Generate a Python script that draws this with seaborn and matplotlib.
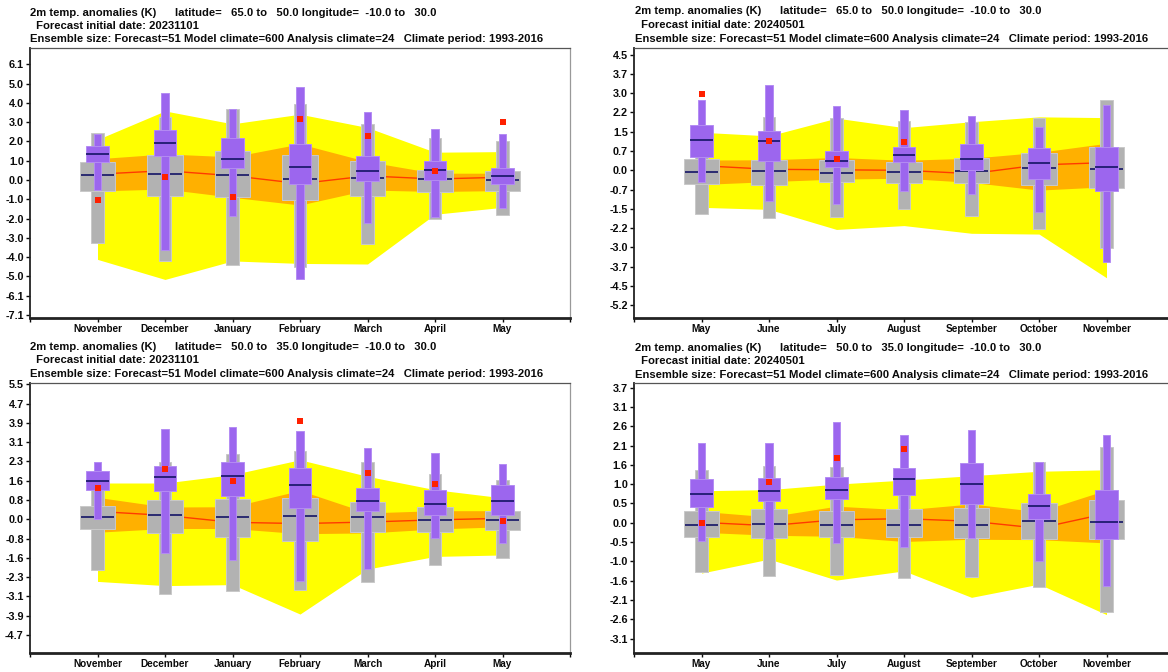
import numpy as np
import matplotlib
matplotlib.use("Agg")
import matplotlib.pyplot as plt
import seaborn as sns

sns.set_theme(style="white")
plt.rcParams['font.family'] = ['Liberation Sans', 'DejaVu Sans']
plt.rcParams['font.weight'] = 'bold'

# ---------------------------------------------------------------- data
months_winter = ["November", "December", "January", "February", "March", "April", "May"]
months_summer = ["May", "June", "July", "August", "September", "October", "November"]

# Panel A: lat 65-50, start 20231101
a_clim_outer_hi = [2.10, 3.58, 2.91, 3.41, 2.72, 1.44, 1.47]
a_clim_outer_lo = [-4.12, -5.16, -4.20, -4.33, -4.36, -1.78, -1.42]
a_clim_inner_hi = [1.10, 1.35, 1.20, 1.87, 0.95, 0.35, 0.35]
a_clim_inner_lo = [-0.57, -0.47, -0.90, -1.30, -0.52, -0.60, -0.55]
a_clim_median = [0.30, 0.48, 0.22, -0.19, 0.21, 0.05, 0.14]
a_mclim_whisk_hi = [2.46, 3.29, 3.69, 3.93, 2.89, 2.18, 2.02]
a_mclim_whisk_lo = [-3.25, -4.19, -4.41, -4.50, -3.32, -2.00, -1.83]
a_mclim_box_hi = [0.93, 1.30, 1.50, 1.30, 0.97, 0.52, 0.47]
a_mclim_box_lo = [-0.57, -0.83, -0.90, -1.04, -0.81, -0.64, -0.57]
a_mclim_median = [0.26, 0.31, 0.26, 0.07, 0.09, 0.03, -0.02]
a_fc_whisk_hi = [2.40, 4.50, 3.69, 4.84, 3.53, 2.65, 2.39]
a_fc_whisk_lo = [-0.52, -3.63, -1.85, -5.14, -2.21, -1.92, -1.45]
a_fc_box_hi = [1.76, 2.60, 2.16, 1.87, 1.26, 0.99, 0.62]
a_fc_box_lo = [0.92, 1.26, 0.62, -0.19, -0.03, 0.00, -0.22]
a_fc_median = [1.35, 1.94, 1.11, 0.66, 0.45, 0.50, 0.21]
a_analysis = [-1.04, 0.16, -0.88, 3.17, 2.30, 0.47, 3.01]

# Panel B: lat 65-50, start 20240501
b_clim_outer_hi = [1.48, 1.34, 2.03, 1.66, 1.89, 2.08, 2.05]
b_clim_outer_lo = [-1.44, -1.52, -2.30, -2.15, -2.45, -2.48, -4.18]
b_clim_inner_hi = [0.40, 0.41, 0.50, 0.39, 0.47, 0.70, 1.05]
b_clim_inner_lo = [-0.55, -0.44, -0.34, -0.31, -0.47, -0.77, -0.64]
b_clim_median = [0.18, 0.04, 0.02, 0.00, -0.13, 0.21, 0.30]
b_mclim_whisk_hi = [1.20, 2.09, 2.05, 1.92, 1.87, 2.05, 2.74]
b_mclim_whisk_lo = [-1.71, -1.87, -1.80, -1.50, -1.76, -2.30, -3.03]
b_mclim_box_hi = [0.45, 0.41, 0.39, 0.32, 0.48, 0.66, 0.89]
b_mclim_box_lo = [-0.52, -0.59, -0.47, -0.48, -0.48, -0.57, -0.68]
b_mclim_median = [-0.05, -0.04, -0.11, -0.08, -0.02, 0.08, 0.05]
b_fc_whisk_hi = [2.74, 3.32, 2.51, 2.35, 2.12, 1.70, 2.53]
b_fc_whisk_lo = [-0.44, -1.19, -1.31, -0.80, -0.92, -1.64, -3.58]
b_fc_box_hi = [1.76, 1.53, 0.74, 0.91, 1.04, 0.86, 0.89]
b_fc_box_lo = [0.52, 0.38, 0.14, 0.31, 0.02, -0.34, -0.80]
b_fc_median = [1.17, 1.14, 0.38, 0.59, 0.43, 0.27, 0.12]
b_analysis = [2.97, 1.14, 0.44, 1.10, np.nan, np.nan, np.nan]

# Panel C: lat 50-35, start 20231101
c_clim_outer_hi = [1.47, 1.47, 1.81, 2.41, 1.74, 1.20, 0.87]
c_clim_outer_lo = [-2.51, -2.68, -2.64, -3.83, -2.01, -1.50, -1.44]
c_clim_inner_hi = [0.89, 0.50, 0.51, 1.17, 0.26, 0.35, 0.35]
c_clim_inner_lo = [-0.52, -0.37, -0.37, -0.58, -0.55, -0.39, -0.30]
c_clim_median = [0.32, 0.16, -0.12, -0.17, -0.11, -0.02, 0.04]
c_mclim_whisk_hi = [1.56, 2.31, 2.66, 2.75, 2.31, 1.83, 1.58]
c_mclim_whisk_lo = [-2.04, -3.00, -2.91, -2.85, -2.55, -1.83, -1.57]
c_mclim_box_hi = [0.54, 0.80, 0.81, 0.85, 0.69, 0.48, 0.35]
c_mclim_box_lo = [-0.39, -0.55, -0.72, -0.87, -0.52, -0.51, -0.43]
c_mclim_median = [0.08, 0.19, 0.11, 0.15, 0.11, -0.02, -0.02]
c_fc_whisk_hi = [2.33, 3.67, 3.74, 3.59, 2.90, 2.67, 2.22]
c_fc_whisk_lo = [0.02, -1.37, -1.63, -2.51, -2.00, -0.76, -0.97]
c_fc_box_hi = [1.94, 2.16, 2.33, 2.07, 1.26, 1.20, 1.40]
c_fc_box_lo = [1.19, 1.13, 0.93, 0.44, 0.34, 0.16, 0.16]
c_fc_median = [1.55, 1.70, 1.74, 1.40, 0.74, 0.61, 0.73]
c_analysis = [1.26, 2.02, 1.54, 3.96, 1.86, 1.43, -0.08]

# Panel D: lat 50-35, start 20240501
d_clim_outer_hi = [0.87, 0.90, 1.05, 1.16, 1.28, 1.40, 1.44]
d_clim_outer_lo = [-1.37, -0.99, -1.56, -1.31, -2.03, -1.67, -2.50]
d_clim_inner_hi = [0.31, 0.16, 0.45, 0.35, 0.51, 0.30, 0.89]
d_clim_inner_lo = [-0.26, -0.34, -0.37, -0.51, -0.45, -0.46, -0.55]
d_clim_median = [0.01, -0.08, 0.08, 0.11, 0.04, -0.15, 0.25]
d_mclim_whisk_hi = [1.43, 1.55, 1.51, 1.37, 1.37, 1.64, 2.05]
d_mclim_whisk_lo = [-1.35, -1.46, -1.41, -1.50, -1.48, -1.76, -2.42]
d_mclim_box_hi = [0.31, 0.37, 0.31, 0.37, 0.40, 0.54, 0.62]
d_mclim_box_lo = [-0.38, -0.41, -0.38, -0.40, -0.41, -0.43, -0.43]
d_mclim_median = [-0.05, -0.03, -0.05, -0.05, -0.05, 0.05, 0.02]
d_fc_whisk_hi = [2.17, 2.16, 2.75, 2.39, 2.51, 1.64, 2.38]
d_fc_whisk_lo = [-0.49, -0.45, -0.56, -0.66, -0.41, -1.05, -1.71]
d_fc_box_hi = [1.19, 1.22, 1.25, 1.50, 1.63, 0.78, 0.89]
d_fc_box_lo = [0.43, 0.58, 0.65, 0.76, 0.51, 0.09, -0.43]
d_fc_median = [0.79, 0.86, 0.90, 1.18, 1.05, 0.45, 0.02]
d_analysis = [0.00, 1.11, 1.77, 2.01, np.nan, np.nan, np.nan]

# y tick labels for each panel (evenly spaced ticks, step in K)
a_ytick_labels = ["6.1", "5.0", "4.0", "3.0", "2.0", "1.0", "0.0", "-1.0", "-2.0",
                  "-3.0", "-4.0", "-5.0", "-6.1", "-7.1"]
b_ytick_labels = ["4.5", "3.7", "3.0", "2.2", "1.5", "0.7", "0.0", "-0.7", "-1.5",
                  "-2.2", "-3.0", "-3.7", "-4.5", "-5.2"]
c_ytick_labels = ["5.5", "4.7", "3.9", "3.1", "2.3", "1.6", "0.8", "0.0", "-0.8",
                  "-1.6", "-2.3", "-3.1", "-3.9", "-4.7"]
d_ytick_labels = ["3.7", "3.1", "2.6", "2.1", "1.6", "1.0", "0.5", "0.0", "-0.5",
                  "-1.0", "-1.6", "-2.1", "-2.6", "-3.1"]

title_line1 = "2m temp. anomalies (K)      latitude=   {} to   {} longitude=  -10.0 to   30.0"
title_line2 = " Forecast initial date: {}"
title_line3 = "Ensemble size: Forecast=51 Model climate=600 Analysis climate=24   Climate period: 1993-2016"

# ---------------------------------------------------------------- style
YELLOW = "#ffff00"
ORANGE = "#ffb000"
RED_LINE = "#ff3a00"
GRAY = "#b2b2b2"
GRAY_EDGE = "#c9c9c9"
PURPLE = "#9c66ee"
PURPLE_EDGE = "#b48cf3"
NAVY = "#141466"
SQUARE = "#ff2000"
TEXT = "#0a0a0a"
TITLE_SIZE = 8.1

W, H = 1168, 672
fig = plt.figure(figsize=(W / 100, H / 100), dpi=100)


def px_axes(left, top, right, bottom):
    return fig.add_axes([left / W, 1 - bottom / H, (right - left) / W, (bottom - top) / H])


def draw_panel(ax, months, d, step, k_top, k_bottom, ylim_steps, labels):
    x = np.arange(1, len(months) + 1)
    ax.fill_between(x, d["outer_lo"], d["outer_hi"], color=YELLOW, lw=0, zorder=1)
    ax.fill_between(x, d["inner_lo"], d["inner_hi"], color=ORANGE, lw=0, zorder=2)
    sns.lineplot(x=x, y=d["clim_median"], ax=ax, color=RED_LINE, lw=1.0, zorder=3)

    wl, wh = np.array(d["mw_lo"]), np.array(d["mw_hi"])
    ax.bar(x, wh - wl, bottom=wl, width=0.19, color=GRAY, edgecolor=GRAY_EDGE, lw=0.7, zorder=4)
    bl, bh = np.array(d["mb_lo"]), np.array(d["mb_hi"])
    ax.bar(x, bh - bl, bottom=bl, width=0.52, color=GRAY, edgecolor=GRAY_EDGE, lw=0.7, zorder=4)
    ax.hlines(d["m_med"], x - 0.25, x + 0.25, color=NAVY, lw=1.2, zorder=5)

    fl, fh = np.array(d["fw_lo"]), np.array(d["fw_hi"])
    ax.bar(x, fh - fl, bottom=fl, width=0.115, color=PURPLE, edgecolor=PURPLE_EDGE, lw=0.7, zorder=6)
    pl, ph = np.array(d["fb_lo"]), np.array(d["fb_hi"])
    ax.bar(x, ph - pl, bottom=pl, width=0.34, color=PURPLE, edgecolor=PURPLE_EDGE, lw=0.7, zorder=6)
    ax.hlines(d["f_med"], x - 0.165, x + 0.165, color=NAVY, lw=1.2, zorder=7)

    sns.scatterplot(x=x, y=d["analysis"], ax=ax, marker="s", s=13, color=SQUARE,
                    linewidth=0, zorder=8, legend=False)

    ax.set_xlim(0, len(months) + 1)
    ax.set_xticks(np.arange(0, len(months) + 2))
    ax.set_xticklabels([""] + months + [""])
    ax.set_ylim(ylim_steps[0] * step, ylim_steps[1] * step)
    ks = np.arange(k_top, k_bottom - 1, -1)
    ax.set_yticks(ks * step)
    ax.set_yticklabels(labels)
    ax.set_xlabel("")
    ax.set_ylabel("")
    ax.tick_params(axis="both", direction="out", length=3, width=1,
                   pad=1.5, bottom=True, left=True, colors=TEXT)
    ax.tick_params(axis="x", labelsize=7.2)
    ax.tick_params(axis="y", labelsize=7.8)
    for lab in ax.get_xticklabels() + ax.get_yticklabels():
        lab.set_fontweight("bold")
    ax.spines["left"].set_color("#222222")
    ax.spines["left"].set_linewidth(1.3)
    ax.spines["bottom"].set_color("#222222")
    ax.spines["bottom"].set_linewidth(2.0)
    ax.spines["top"].set_color("#555555")
    ax.spines["top"].set_linewidth(0.9)
    ax.spines["right"].set_color("#999999")
    ax.spines["right"].set_linewidth(0.9)
    ax.set_facecolor("white")


def pack(p):
    g = globals()
    keys = {
        "outer_hi": "clim_outer_hi", "outer_lo": "clim_outer_lo",
        "inner_hi": "clim_inner_hi", "inner_lo": "clim_inner_lo",
        "clim_median": "clim_median",
        "mw_hi": "mclim_whisk_hi", "mw_lo": "mclim_whisk_lo",
        "mb_hi": "mclim_box_hi", "mb_lo": "mclim_box_lo", "m_med": "mclim_median",
        "fw_hi": "fc_whisk_hi", "fw_lo": "fc_whisk_lo",
        "fb_hi": "fc_box_hi", "fb_lo": "fc_box_lo", "f_med": "fc_median",
        "analysis": "analysis",
    }
    return {k: g[p + "_" + v] for k, v in keys.items()}


panels = [
    # prefix, months, box (l, t, r, b), step, k_top, k_bottom, ylim in steps, labels, lat, date, title x, title y
    ("a", months_winter, (30, 47.5, 570, 318), 1.0, 6, -7, (-7.16, 6.87), a_ytick_labels,
     ("65.0", "50.0"), "20231101", 30, 12.5),
    ("b", months_summer, (634, 47.5, 1174, 318), 0.75, 6, -7, (-7.66, 6.37), b_ytick_labels,
     ("65.0", "50.0"), "20240501", 635, 11.5),
    ("c", months_winter, (30, 383, 570, 653), 0.78, 7, -6, (-6.93, 7.07), c_ytick_labels,
     ("50.0", "35.0"), "20231101", 30, 347),
    ("d", months_summer, (634, 383, 1174, 653), 0.525, 7, -6, (-6.75, 7.24), d_ytick_labels,
     ("50.0", "35.0"), "20240501", 635, 348),
]

for (p, months, box, step, kt, kb, ylim_steps, labels, lat, date, tx, ty) in panels:
    ax = px_axes(*box)
    draw_panel(ax, months, pack(p), step, kt, kb, ylim_steps, labels)
    fig.text(tx / W, 1 - ty / H, title_line1.format(*lat), ha="left", va="center",
             fontsize=TITLE_SIZE, fontweight="bold", color=TEXT)
    fig.text((tx + 3) / W, 1 - (ty + 13.3) / H, title_line2.format(date), ha="left", va="center",
             fontsize=TITLE_SIZE, fontweight="bold", color=TEXT)
    fig.text(tx / W, 1 - (ty + 27) / H, title_line3, ha="left", va="center",
             fontsize=TITLE_SIZE, fontweight="bold", color=TEXT)

fig.savefig("out.png", dpi=100, facecolor="white")
